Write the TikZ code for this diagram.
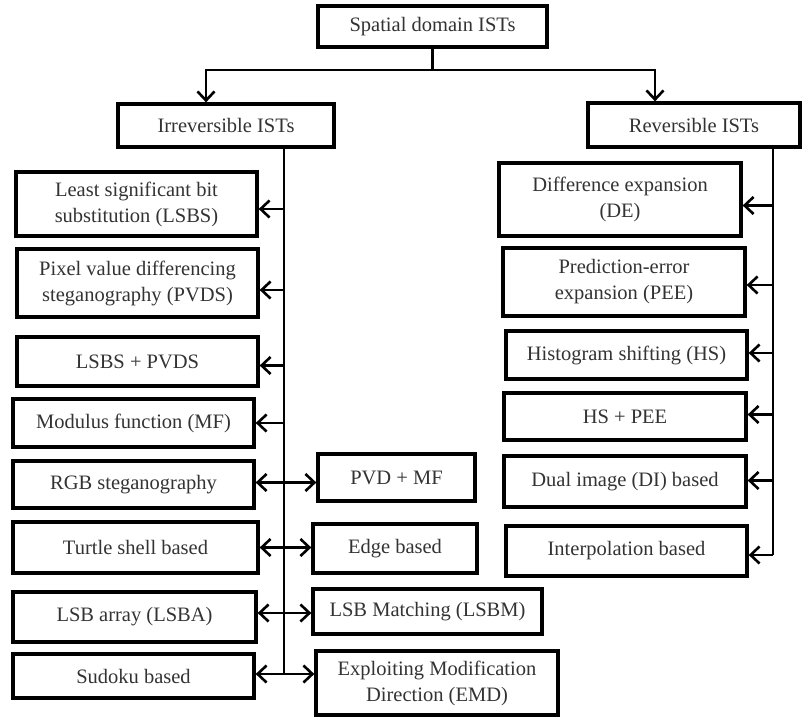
\documentclass[tikz,border=0pt]{standalone}
\usepackage{fontspec}
\setmainfont{Liberation Serif}
\usetikzlibrary{arrows.meta}
\definecolor{txt}{HTML}{333333}
\tikzset{
  box/.style={draw=black, line width=3.3pt, rectangle, inner sep=0pt, align=center,
    text=txt, font=\fontsize{20.5}{26}\selectfont},
  conn/.style={line width=2.8pt, draw=black},
  tip/.style={},
  arr/.style={conn, -{Straight Barb[length=9pt,width=17pt,line width=2.6pt]}},
  darr/.style={conn, {Straight Barb[length=9pt,width=17pt,line width=2.6pt]}-{Straight Barb[length=9pt,width=17pt,line width=2.6pt]}}
}
\begin{document}
\begin{tikzpicture}[x=1pt,y=-1pt]
\useasboundingbox (0,0) rectangle (803,717);
% top levels
\node[box, minimum width=229pt, minimum height=41pt] (top) at (432.5,26.5) {Spatial domain ISTs};
\node[box, minimum width=216pt, minimum height=43pt] (irr) at (226,125.5) {Irreversible ISTs};
\node[box, minimum width=212pt, minimum height=44pt] (rev) at (694,125) {Reversible ISTs};
% irreversible children, left column
\node[box, minimum width=241pt, minimum height=64pt] (lsbs) at (136.5,204) {Least significant bit\\substitution (LSBS)};
\node[box, minimum width=241pt, minimum height=68pt] (pvds) at (137.5,283) {Pixel value differencing\\steganography (PVDS)};
\node[box, minimum width=241pt, minimum height=49pt] (lp) at (137.5,361.5) {LSBS + PVDS};
\node[box, minimum width=241pt, minimum height=48pt] (mf) at (133.5,423) {Modulus function (MF)};
\node[box, minimum width=241pt, minimum height=47pt] (rgb) at (133.5,484.5) {RGB steganography};
\node[box, minimum width=245pt, minimum height=51pt] (turtle) at (135.5,547.5) {Turtle shell based};
\node[box, minimum width=243pt, minimum height=50pt] (lsba) at (134.5,617) {LSB array (LSBA)};
\node[box, minimum width=241pt, minimum height=44pt] (sudoku) at (133.5,676) {Sudoku based};
% irreversible children, right column
\node[box, minimum width=157pt, minimum height=47pt] (pvdmf) at (396.5,477.5) {PVD + MF};
\node[box, minimum width=164pt, minimum height=49pt] (edge) at (395,548.5) {Edge based};
\node[box, minimum width=229pt, minimum height=45pt] (lsbm) at (427.5,611.5) {LSB Matching (LSBM)};
\node[box, minimum width=242pt, minimum height=64pt] (emd) at (437,683) {Exploiting Modification\\Direction (EMD)};
% reversible children
\node[box, minimum width=242pt, minimum height=73pt] (de) at (620,199.5) {Difference expansion\\(DE)};
\node[box, minimum width=242pt, minimum height=68pt] (pee) at (624,282) {Prediction-error\\expansion (PEE)};
\node[box, minimum width=241pt, minimum height=48pt] (hs) at (626.5,355) {Histogram shifting (HS)};
\node[box, minimum width=242pt, minimum height=47pt] (hspee) at (625,416.5) {HS + PEE};
\node[box, minimum width=242pt, minimum height=51pt] (di) at (625,481.5) {Dual image (DI) based};
\node[box, minimum width=241pt, minimum height=50pt] (interp) at (626.5,551) {Interpolation based};
% junction from top
\coordinate (jl) at (206,70);
\coordinate (jr) at (655,70);
\coordinate (lx) at (284,0);
\coordinate (rx) at (773,0);
\draw[conn] (top.south) -- (top.south |- jl);
\draw[arr] (top.south |- jl) -- (jl) -- (jl |- irr.north);
\draw[arr] (top.south |- jl) -- (jr) -- (jr |- rev.north);
% left trunk
\draw[conn] (irr.south -| lx) -- ([yshift=2pt]sudoku.east -| lx);
\draw[arr] ([yshift=-5pt]lsbs.east -| lx) -- ([yshift=-5pt]lsbs.east);
\draw[arr] ([yshift=-7pt]pvds.east -| lx) -- ([yshift=-7pt]pvds.east);
\draw[arr] ([yshift=-4pt]lp.east -| lx) -- ([yshift=-4pt]lp.east);
\draw[arr] (mf.east -| lx) -- (mf.east);
\draw[darr] ([yshift=2pt]rgb.east) -- ([yshift=2pt]rgb.east -| pvdmf.west);
\draw[darr] (turtle.east) -- (turtle.east -| edge.west);
\draw[darr] ([yshift=4pt]lsba.east) -- ([yshift=4pt]lsba.east -| lsbm.west);
\draw[darr] ([yshift=2pt]sudoku.east) -- ([yshift=2pt]sudoku.east -| emd.west);
% right trunk
\draw[conn] (rev.south -| rx) -- ([yshift=-4pt]interp.east -| rx);
\draw[arr] ([yshift=-6pt]de.east -| rx) -- ([yshift=-6pt]de.east);
\draw[arr] ([yshift=-3pt]pee.east -| rx) -- ([yshift=-3pt]pee.east);
\draw[arr] ([yshift=2pt]hs.east -| rx) -- ([yshift=2pt]hs.east);
\draw[arr] ([yshift=2pt]hspee.east -| rx) -- ([yshift=2pt]hspee.east);
\draw[arr] ([yshift=1pt]di.east -| rx) -- ([yshift=1pt]di.east);
\draw[arr] ([yshift=-4pt]interp.east -| rx) -- ([yshift=-4pt]interp.east);
\end{tikzpicture}
\end{document}
